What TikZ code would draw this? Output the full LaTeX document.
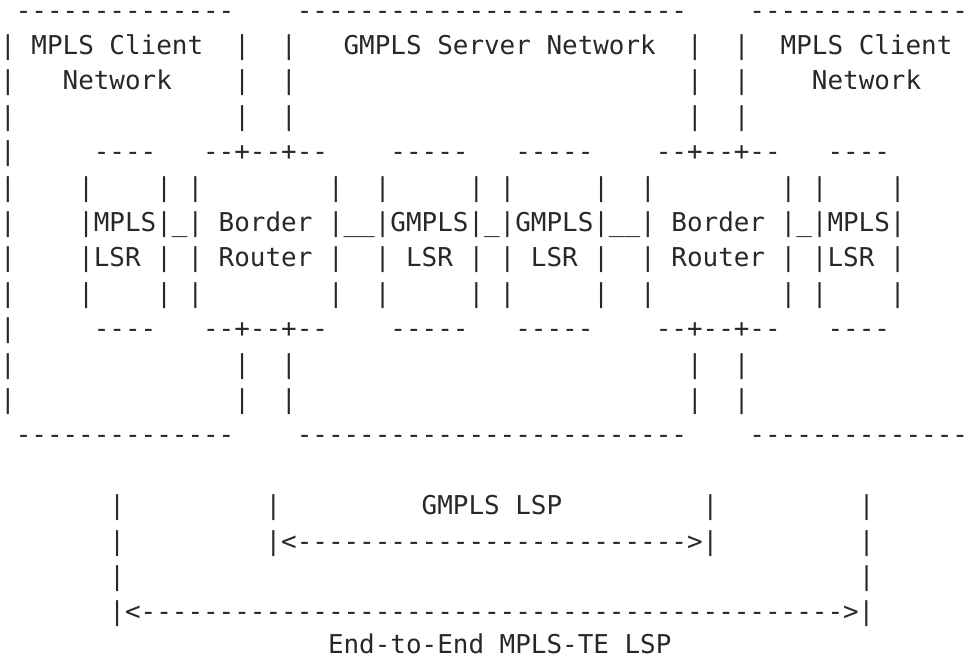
\documentclass[tikz,border=0pt]{standalone}
\usepackage{fontspec}
\setmonofont{DejaVu Sans Mono}
\definecolor{ink}{RGB}{40,40,40}
\tikzset{asc/.style={anchor=base west, inner sep=0pt, outer sep=0pt, text=ink,
  font=\ttfamily\fontsize{25.93pt}{30pt}\selectfont}}
% place text: name, column, row, text
\newcommand\putT[4]{\node[asc] (#1) at ({0.2+15.61*#2},{35.4*#3-16.3}) {#4};}
\newcommand\dsh[1]{\foreach \i in {1,...,#1}{-}}
\begin{document}
\begin{tikzpicture}[x=1pt,y=-1pt]
\useasboundingbox (0,0) rectangle (971,660);
% row 1: top edges of the three networks
\putT{topL}{1}{1}{\dsh{14}}
\putT{topM}{19}{1}{\dsh{25}}
\putT{topR}{48}{1}{\dsh{14}}
% row 2
\putT{r2a}{0}{2}{|}
\putT{clientL}{2}{2}{MPLS Client}
\putT{r2b}{15}{2}{|}
\putT{r2c}{18}{2}{|}
\putT{server}{22}{2}{GMPLS Server Network}
\putT{r2d}{44}{2}{|}
\putT{r2e}{47}{2}{|}
\putT{clientR}{50}{2}{MPLS Client}
% row 3
\putT{r3a}{0}{3}{|}
\putT{netL}{4}{3}{Network}
\putT{r3b}{15}{3}{|}
\putT{r3c}{18}{3}{|}
\putT{r3d}{44}{3}{|}
\putT{r3e}{47}{3}{|}
\putT{netR}{52}{3}{Network}
% row 4
\putT{r4a}{0}{4}{|}
\putT{r4b}{15}{4}{|}
\putT{r4c}{18}{4}{|}
\putT{r4d}{44}{4}{|}
\putT{r4e}{47}{4}{|}
% row 5: top of router boxes
\putT{r5a}{0}{5}{|}
\putT{r5b}{6}{5}{\dsh{4}}
\putT{r5c}{13}{5}{--+--+--}
\putT{r5d}{25}{5}{\dsh{5}}
\putT{r5e}{33}{5}{\dsh{5}}
\putT{r5f}{42}{5}{--+--+--}
\putT{r5g}{53}{5}{\dsh{4}}
% row 6
\foreach \c [count=\k] in {0,5,10,12,21,24,30,32,38,41,50,52,57}
  {\putT{r6p\k}{\c}{6}{|}}
% row 7
\putT{r7a}{0}{7}{|}
\putT{chain}{5}{7}{|MPLS|\_| Border |\_\_|GMPLS|\_|GMPLS|\_\_| Border |\_|MPLS|}
% row 8
\putT{r8a}{0}{8}{|}
\putT{r8b}{5}{8}{|LSR | | Router |}
\putT{r8c}{24}{8}{| LSR | | LSR |}
\putT{r8d}{41}{8}{| Router | |LSR |}
% row 9
\foreach \c [count=\k] in {0,5,10,12,21,24,30,32,38,41,50,52,57}
  {\putT{r9p\k}{\c}{9}{|}}
% row 10: bottom of router boxes
\putT{r10a}{0}{10}{|}
\putT{r10b}{6}{10}{\dsh{4}}
\putT{r10c}{13}{10}{--+--+--}
\putT{r10d}{25}{10}{\dsh{5}}
\putT{r10e}{33}{10}{\dsh{5}}
\putT{r10f}{42}{10}{--+--+--}
\putT{r10g}{53}{10}{\dsh{4}}
% rows 11, 12
\foreach \r in {11,12}{
  \foreach \c [count=\k] in {0,15,18,44,47}
    {\putT{r\r p\k}{\c}{\r}{|}}
}
% row 13: bottom edges
\putT{botL}{1}{13}{\dsh{14}}
\putT{botM}{19}{13}{\dsh{25}}
\putT{botR}{48}{13}{\dsh{14}}
% LSP spans
\putT{r15a}{7}{15}{|}
\putT{r15b}{17}{15}{|}
\putT{gmplsLSP}{27}{15}{GMPLS LSP}
\putT{r15c}{45}{15}{|}
\putT{r15d}{55}{15}{|}
\putT{r16a}{7}{16}{|}
\putT{gArrow}{17}{16}{|<\dsh{25}>|}
\putT{r16b}{55}{16}{|}
\putT{r17a}{7}{17}{|}
\putT{r17b}{55}{17}{|}
\putT{eArrow}{7}{18}{|<\dsh{45}>|}
\node[asc] (e2e) at ({0.2+15.61*21},{35.4*19-19.3}) {End-to-End MPLS-TE LSP};
\end{tikzpicture}
\end{document}
